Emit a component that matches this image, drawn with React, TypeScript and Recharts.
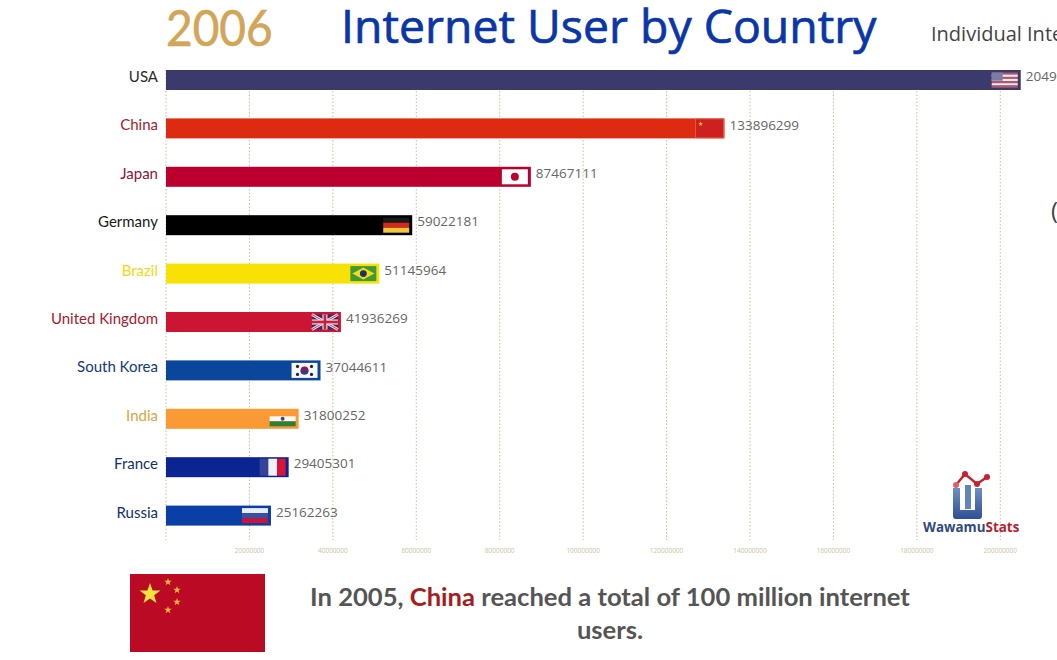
import React from "react";
import { BarChart, Bar, XAxis, YAxis, CartesianGrid, LabelList } from "recharts";

const countries = ["USA", "China", "Japan", "Germany", "Brazil", "United Kingdom", "South Korea", "India", "France", "Russia"];
const users = [204900000, 133896299, 87467111, 59022181, 51145964, 41936269, 37044611, 31800252, 29405301, 25162263];
const barColors = ["#3c3a6c", "#dc2b10", "#bb002f", "#000000", "#f9e106", "#cb1533", "#0a469c", "#fb9a34", "#0a2491", "#0a3fa6"];
const labelColors = ["#2a2a2a", "#9c2530", "#8c1534", "#1a1a1a", "#f2d90f", "#a51c30", "#123a7a", "#dfa43c", "#12306e", "#12306e"];
const xTicks = [0, 20000000, 40000000, 60000000, 80000000, 100000000, 120000000, 140000000, 160000000, 180000000, 200000000];

const chartData = countries.map((name, i) => ({ name, users: users[i], fill: barColors[i], labelColor: labelColors[i] }));

const FLAG_W = 26;
const FLAG_H = 15;

const star = (cx: number, cy: number, r: number) => {
  const pts: string[] = [];
  for (let i = 0; i < 10; i++) {
    const rad = i % 2 === 0 ? r : r * 0.4;
    const a = -Math.PI / 2 + (i * Math.PI) / 5;
    pts.push(`${cx + rad * Math.cos(a)},${cy + rad * Math.sin(a)}`);
  }
  return pts.join(" ");
};

const Flag = ({ name }: { name: string }) => {
  const w = FLAG_W;
  const h = FLAG_H;
  switch (name) {
    case "USA":
      return (
        <g>
          {[0, 1, 2, 3, 4, 5, 6].map((i) => (
            <rect key={i} y={(i * h) / 7} width={w} height={h / 7 + 0.2} fill={i % 2 === 0 ? "#b5566c" : "#f4eef0"} />
          ))}
          <rect width={11} height={h * 0.55} fill="#7b7ba6" />
        </g>
      );
    case "China":
      return (
        <g>
          <rect width={w + 2} height={h + 4} y={-2} fill="#cf2020" stroke="#e8694a" strokeWidth={0.7} />
          <polygon points={star(5, 3, 2.5)} fill="#f3c63c" />
        </g>
      );
    case "Japan":
      return (
        <g>
          <rect width={w} height={h} fill="#ffffff" />
          <circle cx={w / 2} cy={h / 2} r={4} fill="#bb002f" />
        </g>
      );
    case "Germany":
      return (
        <g>
          <rect width={w} height={h / 3} fill="#1a1a1a" />
          <rect y={h / 3} width={w} height={h / 3} fill="#d8281c" />
          <rect y={(2 * h) / 3} width={w} height={h / 3} fill="#f3c63c" />
        </g>
      );
    case "Brazil":
      return (
        <g>
          <rect width={w} height={h} fill="#3f9a35" />
          <polygon points={`2,${h / 2} ${w / 2},1.5 ${w - 2},${h / 2} ${w / 2},${h - 1.5}`} fill="#f0dc1e" />
          <circle cx={w / 2} cy={h / 2} r={3.4} fill="#1f2f6e" />
        </g>
      );
    case "United Kingdom":
      return (
        <g>
          <rect width={w} height={h} fill="#3b2a66" />
          <line x1={0} y1={0} x2={w} y2={h} stroke="#f4eef4" strokeWidth={2.6} />
          <line x1={w} y1={0} x2={0} y2={h} stroke="#f4eef4" strokeWidth={2.6} />
          <line x1={0} y1={0} x2={w} y2={h} stroke="#c8203c" strokeWidth={0.9} />
          <line x1={w} y1={0} x2={0} y2={h} stroke="#c8203c" strokeWidth={0.9} />
          <rect x={w / 2 - 2.5} width={5} height={h} fill="#f4eef4" />
          <rect y={h / 2 - 2.5} width={w} height={5} fill="#f4eef4" />
          <rect x={w / 2 - 1.4} width={2.8} height={h} fill="#c8203c" />
          <rect y={h / 2 - 1.4} width={w} height={2.8} fill="#c8203c" />
        </g>
      );
    case "South Korea":
      return (
        <g>
          <rect width={w} height={h} fill="#f6f6fa" />
          <circle cx={w / 2} cy={h / 2} r={4} fill="#8f1a4c" />
          <path d={`M${w / 2 - 4},${h / 2} a4,4 0 0,0 8,0 z`} fill="#2a3f8e" />
          {[[6, 3.5], [20, 3.5], [6, 11.5], [20, 11.5]].map(([cx, cy], i) => (
            <circle key={i} cx={cx} cy={cy} r={1.6} fill="#222" />
          ))}
        </g>
      );
    case "India":
      return (
        <g>
          <rect width={w} height={h / 3} fill="#fb9a34" />
          <rect y={h / 3} width={w} height={h / 3} fill="#f8f8f4" />
          <rect y={(2 * h) / 3} width={w} height={h / 3} fill="#2f7f35" />
          <circle cx={w / 2} cy={h / 2} r={2} fill="#3a4a80" />
        </g>
      );
    case "France":
      return (
        <g>
          <rect width={w / 3} height={h + 2} y={-1} fill="#34449a" />
          <rect x={w / 3} width={w / 3} height={h + 2} y={-1} fill="#f2f2f8" />
          <rect x={(2 * w) / 3} width={w / 3} height={h + 2} y={-1} fill="#d8143a" />
        </g>
      );
    case "Russia":
      return (
        <g>
          <rect width={w} height={h / 3} fill="#e8ecf6" />
          <rect y={h / 3} width={w} height={h / 3} fill="#3a50a4" />
          <rect y={(2 * h) / 3} width={w} height={h / 3} fill="#c8163a" />
        </g>
      );
    default:
      return null;
  }
};

const BarWithFlag = (props: any) => {
  const { x, y, width, height, payload } = props;
  return (
    <g>
      <rect x={x} y={y} width={width} height={height} fill={payload.fill} />
      <g transform={`translate(${x + width - FLAG_W - 3},${y + (height - FLAG_H) / 2})`}>
        <Flag name={payload.name} />
      </g>
    </g>
  );
};

const CountryTick = (props: any) => {
  const { x, y, payload, index } = props;
  return (
    <text x={x} y={y - 3.5} dy="0.35em" textAnchor="end" fontFamily="Lato" fontSize={15} fill={labelColors[index]}>
      {payload.value}
    </text>
  );
};

const ValueLabel = (props: any) => {
  const { x, y, width, height, value } = props;
  return (
    <text x={x + width + 5} y={y + height / 2 - 3.5} dy="0.35em" fontFamily="Open Sans" fontSize={13.5} fill="#666666">
      {value}
    </text>
  );
};

const GridLine = (props: any) => (
  <line x1={props.x1} x2={props.x2} y1={70} y2={props.y2} stroke="#c9bf96" strokeWidth={1} strokeDasharray="1.5 2" />
);

const abs = (style: React.CSSProperties): React.CSSProperties => ({ position: "absolute", whiteSpace: "nowrap", ...style });

const App = () => {
  return (
    <div style={{ position: "absolute", left: 0, top: 0, width: 1057, height: 660, overflow: "hidden", background: "#fff" }}>
      <BarChart
        width={1057}
        height={660}
        data={chartData}
        layout="vertical"
        margin={{ top: 56, right: 15, bottom: 90, left: 0 }}
      >
        <CartesianGrid horizontal={false} vertical={GridLine} syncWithTicks />
        <XAxis
          type="number"
          domain={[0, 210000000]}
          ticks={xTicks}
          height={30}
          axisLine={false}
          tickLine={false}
          tickFormatter={(v: number) => (v === 0 ? "" : String(v))}
          tick={{ fontFamily: "Open Sans", fontSize: 6.5, fill: "#cdbf9f" }}
        />
        <YAxis type="category" dataKey="name" width={166} axisLine={false} tickLine={false} interval={0} tick={CountryTick} />
        <Bar dataKey="users" barSize={20} shape={BarWithFlag} isAnimationActive={false}>
          <LabelList dataKey="users" content={ValueLabel} />
        </Bar>
      </BarChart>

      <div
        style={abs({
          left: 166,
          top: 0,
          fontFamily: "Lato",
          fontSize: 50,
          color: "#d2a557",
          lineHeight: "54px",
          WebkitTextStroke: "0.6px #d2a557",
          transform: "scaleX(0.92)",
          transformOrigin: "left center",
        })}
      >
        2006
      </div>
      <div
        style={abs({
          left: 341,
          top: 0,
          fontFamily: "Open Sans",
          fontSize: 46.4,
          color: "#0b36a8",
          lineHeight: "50px",
          WebkitTextStroke: "0.7px #0b36a8",
        })}
      >
        Internet User by Country
      </div>
      <div style={abs({ left: 931, top: 19, fontFamily: "Open Sans", fontSize: 20, color: "#444", lineHeight: "30px" })}>
        Individual Internet Users
      </div>
      <div style={abs({ left: 1051, top: 193, fontFamily: "Open Sans", fontSize: 24, color: "#444", lineHeight: "34px" })}>(</div>

      <svg style={{ position: "absolute", left: 920, top: 468 }} width={105} height={72}>
        <defs>
          <linearGradient id="logoBlue" x1="0" y1="0" x2="0" y2="1">
            <stop offset="0" stopColor="#6f8fc0" />
            <stop offset="1" stopColor="#2f4f96" />
          </linearGradient>
        </defs>
        <path d="M33,20 h7 v22 h15 v-22 h7 v28 q0,3 -3,3 h-23 q-3,0 -3,-3 z" fill="url(#logoBlue)" />
        <rect x={45} y={17} width={6} height={24} fill="#5f86b8" />
        <polyline points="36,17 45,6 57,16 67,9" fill="none" stroke="#c9202f" strokeWidth={2.4} />
        <circle cx={36} cy={17} r={3} fill="#d8606a" />
        <circle cx={45} cy={6} r={3} fill="#c9202f" />
        <circle cx={57} cy={16} r={3} fill="#c9202f" />
        <circle cx={67} cy={9} r={3} fill="#c9202f" />
        <text x={3} y={64} fontFamily="Open Sans" fontWeight={700} fontSize={13.4}>
          <tspan fill="#2f4a80">Wawamu</tspan>
          <tspan fill="#b8202f">Stats</tspan>
        </text>
      </svg>

      <svg style={{ position: "absolute", left: 130, top: 574 }} width={135} height={78}>
        <rect width={135} height={78} fill="#bb0a24" />
        <polygon points={star(20, 20, 11)} fill="#f8e23c" />
        <polygon points={star(38, 8, 4)} fill="#eeb93a" />
        <polygon points={star(47, 16, 4)} fill="#eeb93a" />
        <polygon points={star(47, 28, 4)} fill="#eeb93a" />
        <polygon points={star(38, 36, 4)} fill="#eeb93a" />
      </svg>

      <div
        style={abs({
          left: 290,
          top: 580,
          width: 640,
          textAlign: "center",
          whiteSpace: "normal",
          fontFamily: "Lato",
          fontWeight: 700,
          fontSize: 25.6,
          lineHeight: "33px",
          color: "#555555",
        })}
      >
        In 2005, <span style={{ color: "#a81c20" }}>China</span> reached a total of 100 million internet users.
      </div>
    </div>
  );
};

export default App;
